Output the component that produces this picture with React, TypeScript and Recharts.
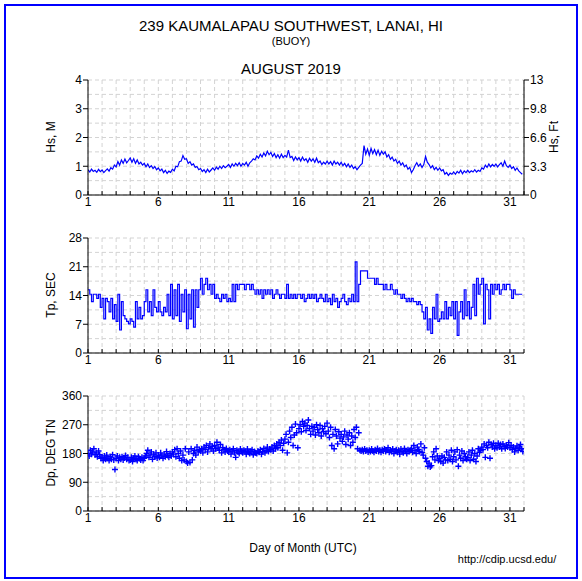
import { LineChart, Line, ScatterChart, Scatter, XAxis, YAxis, CartesianGrid } from "recharts";

const W = 582;
const H = 581;
const FONT = '"Liberation Sans", Arial, Helvetica, sans-serif';
const BLUE = "#0000ff";
const GRID = "#d3d3d3";

// x axis: day of month
const DAY_TICKS = [1, 2, 3, 4, 5, 6, 7, 8, 9, 10, 11, 12, 13, 14, 15, 16, 17, 18, 19, 20, 21, 22, 23, 24, 25, 26, 27, 28, 29, 30, 31, 32];
const DAY_LABELS = [1, 6, 11, 16, 21, 26, 31];

const HS_TICKS = [0, 0.5, 1, 1.5, 2, 2.5, 3, 3.5, 4];
const HS_LABELS = [0, 1, 2, 3, 4];
const FT_LABELS = ["0", "3.3", "6.6", "9.8", "13"];
const TP_TICKS = [0, 3.5, 7, 10.5, 14, 17.5, 21, 24.5, 28];
const TP_LABELS = [0, 7, 14, 21, 28];
const DP_TICKS = [0, 45, 90, 135, 180, 225, 270, 315, 360];
const DP_LABELS = [0, 90, 180, 270, 360];

// significant wave height (m), 3-hourly, one row per day
const HS_PER_DAY = 8;
const HS_M = [
  0.88, 0.80, 0.90, 0.82, 0.86, 0.79, 0.89, 0.81,
  0.87, 0.78, 0.85, 0.91, 0.83, 0.95, 0.90, 1.04,
  0.98, 1.16, 1.04, 1.22, 1.10, 1.25, 1.12, 1.20,
  1.29, 1.14, 1.26, 1.10, 1.22, 1.08, 1.14, 1.04,
  1.10, 0.98, 1.08, 0.96, 1.02, 0.92, 0.99, 0.88,
  0.94, 0.84, 0.90, 0.78, 0.86, 0.75, 0.83, 0.79,
  0.90, 0.84, 1.00, 0.98, 1.16, 1.18, 1.37, 1.24,
  1.26, 1.10, 1.16, 1.04, 1.08, 0.96, 0.99, 0.88,
  0.92, 0.82, 0.88, 0.78, 0.90, 0.80, 0.87, 0.94,
  0.86, 0.97, 0.90, 1.00, 0.92, 1.02, 0.95, 1.00,
  1.06, 0.96, 1.08, 1.00, 1.10, 1.02, 1.12, 1.00,
  1.10, 1.04, 1.14, 1.00, 1.12, 1.18, 1.26, 1.22,
  1.36, 1.28, 1.42, 1.32, 1.46, 1.36, 1.52, 1.40,
  1.48, 1.34, 1.44, 1.30, 1.40, 1.28, 1.42, 1.30,
  1.38, 1.32, 1.56, 1.30, 1.34, 1.20, 1.32, 1.22,
  1.30, 1.18, 1.32, 1.20, 1.26, 1.14, 1.28, 1.18,
  1.26, 1.14, 1.28, 1.12, 1.18, 1.06, 1.14, 1.08,
  1.18, 1.08, 1.16, 1.04, 1.18, 1.08, 1.14, 1.04,
  1.14, 1.02, 1.10, 0.98, 1.08, 0.96, 1.04, 0.92,
  0.98, 0.88, 0.96, 1.04, 1.10, 1.72, 1.42, 1.60,
  1.38, 1.62, 1.44, 1.58, 1.40, 1.56, 1.38, 1.52,
  1.42, 1.50, 1.32, 1.40, 1.24, 1.32, 1.18, 1.24,
  1.10, 1.18, 1.04, 1.12, 0.98, 1.04, 0.90, 0.96,
  0.78, 0.88, 1.02, 1.12, 1.00, 1.08, 0.96, 1.06,
  1.34, 1.14, 1.06, 0.94, 1.02, 0.88, 0.96, 0.86,
  0.94, 0.84, 0.88, 0.72, 0.78, 0.68, 0.76, 0.72,
  0.80, 0.72, 0.82, 0.76, 0.86, 0.74, 0.84, 0.78,
  0.86, 0.78, 0.84, 0.80, 0.88, 0.80, 0.86, 0.82,
  0.94, 0.90, 1.04, 0.96, 1.08, 0.98, 1.06, 1.00,
  1.08, 0.98, 1.06, 1.12, 1.00, 1.18, 1.02, 0.96,
  1.04, 0.92, 0.98, 0.86, 0.94, 0.84, 0.78, 0.72,
];

// peak period (s), 3-hourly
const TP_PER_DAY = 8;
const TP_SEC = [
  15.4, 14.3, 12.5, 14.3, 14.3, 13.3, 14.3, 11.1,
  13.3, 8.3, 13.3, 12.5, 10.0, 13.3, 8.3, 11.8,
  7.7, 14.3, 5.6, 12.5, 9.1, 8.3, 7.7, 7.1,
  8.3, 7.7, 6.3, 12.5, 8.3, 11.1, 8.3, 9.1,
  12.5, 15.4, 10.0, 12.5, 9.1, 15.4, 11.1, 10.0,
  12.5, 10.0, 9.1, 11.1, 10.0, 14.3, 9.1, 16.7,
  8.3, 15.4, 9.1, 16.7, 7.7, 14.3, 10.0, 15.4,
  5.9, 14.3, 8.3, 15.4, 6.3, 15.4, 11.1, 15.4,
  18.2, 14.3, 16.7, 18.2, 15.4, 16.7, 14.3, 16.7,
  13.3, 14.3, 13.3, 12.5, 14.3, 13.3, 14.3, 12.5,
  13.3, 12.5, 16.7, 12.5, 16.7, 15.4, 16.7, 16.7,
  16.7, 15.4, 16.7, 16.7, 15.4, 16.7, 15.4, 14.3,
  15.4, 14.3, 15.4, 13.3, 15.4, 14.3, 15.4, 14.3,
  15.4, 13.3, 14.3, 15.4, 14.3, 13.3, 14.3, 14.3,
  13.3, 16.7, 13.3, 14.3, 13.3, 14.3, 13.3, 14.3,
  14.3, 13.3, 14.3, 12.5, 13.3, 14.3, 13.3, 14.3,
  13.3, 14.3, 12.5, 13.3, 14.3, 13.3, 12.5, 14.3,
  12.5, 13.3, 11.8, 14.3, 12.5, 13.3, 11.1, 12.5,
  13.3, 14.3, 12.5, 11.8, 13.3, 12.5, 14.3, 12.5,
  22.2, 12.5, 16.7, 20.0, 20.0, 20.0, 20.0, 18.2,
  18.2, 18.2, 18.2, 16.7, 18.2, 16.7, 16.7, 16.7,
  15.4, 16.7, 15.4, 15.4, 16.7, 15.4, 14.3, 15.4,
  14.3, 14.3, 13.3, 14.3, 13.3, 12.5, 13.3, 12.5,
  13.3, 12.5, 12.5, 11.8, 12.5, 11.8, 10.0, 8.3,
  11.1, 5.6, 8.3, 4.8, 11.1, 8.3, 14.3, 7.7,
  8.3, 10.0, 8.3, 12.5, 8.3, 11.1, 9.1, 12.5,
  8.3, 12.5, 4.3, 10.0, 12.5, 8.3, 15.4, 9.1,
  12.5, 8.3, 11.1, 16.7, 9.1, 18.2, 14.3, 16.7,
  18.2, 7.1, 16.7, 15.4, 8.3, 16.7, 14.3, 16.7,
  15.4, 16.7, 14.3, 15.4, 16.7, 15.4, 16.7, 16.7,
  15.4, 13.3, 15.4, 14.3, 14.3, 14.3, 14.3, 14.3,
];

// peak direction (deg true north), 2-hourly
const DP_PER_DAY = 12;
const DP_DEG = [
  180, 172, 190, 178, 185, 195, 176, 182, 170, 188, 176, 165,
  168, 158, 172, 162, 175, 165, 158, 170, 162, 176, 160, 130,
  165, 172, 158, 168, 162, 170, 160, 166, 174, 162, 168, 158,
  160, 168, 155, 165, 172, 162, 158, 170, 164, 160, 168, 158,
  165, 172, 180, 190, 168, 175, 185, 162, 178, 170, 182, 166,
  175, 168, 182, 172, 165, 178, 170, 186, 174, 168, 180, 172,
  185, 178, 192, 170, 195, 180, 165, 188, 158, 175, 160, 195,
  155, 150, 185, 152, 195, 160, 180, 190, 175, 200, 185, 192,
  188, 195, 182, 200, 192, 205, 185, 198, 210, 195, 202, 188,
  205, 195, 215, 200, 190, 208, 182, 198, 192, 185, 196, 188,
  185, 192, 178, 188, 195, 182, 168, 190, 185, 180, 194, 186,
  182, 190, 186, 178, 194, 184, 180, 188, 192, 176, 186, 182,
  180, 188, 184, 192, 178, 186, 196, 182, 190, 200, 186, 194,
  192, 200, 188, 205, 195, 210, 198, 215, 205, 222, 190, 212,
  225, 240, 182, 215, 250, 230, 262, 205, 238, 272, 245, 198,
  258, 270, 248, 280, 265, 275, 252, 268, 285, 258, 240, 265,
  250, 262, 238, 270, 255, 245, 268, 235, 258, 248, 265, 242,
  275, 250, 230, 262, 205, 240, 195, 255, 235, 210, 248, 228,
  240, 218, 232, 250, 208, 238, 225, 245, 205, 235, 215, 255,
  230, 262, 195, 245, 190, 188, 192, 186, 194, 188, 190, 185,
  190, 186, 194, 188, 184, 192, 188, 196, 186, 190, 184, 192,
  188, 194, 186, 190, 198, 184, 190, 186, 194, 180, 188, 192,
  184, 190, 178, 194, 186, 182, 196, 188, 180, 192, 186, 190,
  196, 184, 205, 190, 180, 200, 192, 186, 210, 184, 175, 198,
  165, 155, 140, 150, 138, 142, 170, 185, 160, 195, 172, 158,
  165, 155, 172, 150, 168, 160, 185, 158, 175, 162, 190, 155,
  170, 185, 160, 192, 140, 175, 165, 188, 158, 180, 170, 162,
  168, 185, 158, 175, 190, 162, 180, 155, 172, 195, 184, 190,
  200, 192, 210, 168, 205, 198, 215, 165, 208, 200, 212, 195,
  205, 198, 212, 200, 208, 195, 210, 202, 196, 206, 200, 214,
  198, 205, 192, 200, 185, 196, 204, 190, 200, 208, 195, 186,
];

const hsData = HS_M.map((v, i) => ({ day: 1 + i / HS_PER_DAY, hs: v }));
const tpData = TP_SEC.map((v, i) => ({ day: 1 + i / TP_PER_DAY, tp: v }));
const dpData = DP_DEG.map((v, i) => ({ day: 1 + i / DP_PER_DAY, dp: v }));

// plot boxes
const PLOT_LEFT = 88;
const PLOT_RIGHT = 524;
const XAXIS_H = 20;
const PANELS = [
  { top: 80, bottom: 195 },
  { top: 238, bottom: 353 },
  { top: 396, bottom: 511 },
];

const TICK_FONT = 12;

function DayTick(props: any) {
  const { x, y, payload } = props;
  const axisY = y - 8;
  return (
    <g>
      <line x1={x} x2={x} y1={axisY} y2={axisY - 4} stroke="#000" />
      {DAY_LABELS.includes(payload.value) && (
        <text x={x} y={axisY + 11} textAnchor="middle" fontSize={TICK_FONT} fontFamily={FONT} fill="#000">
          {payload.value}
        </text>
      )}
    </g>
  );
}

// y axes use tickSize 5 + tickMargin 1, so the axis line sits 6px from the label x
function LeftTick(props: any) {
  const { x, y, payload, labels } = props;
  if (!labels.includes(payload.value)) return <g />;
  return (
    <g>
      <line x1={x + 1} x2={x + 6} y1={y} y2={y} stroke="#000" />
      <text x={x} y={y} dy="0.36em" textAnchor="end" fontSize={TICK_FONT} fontFamily={FONT} fill="#000">
        {payload.value}
      </text>
    </g>
  );
}

function FeetTick(props: any) {
  const { x, y, payload } = props;
  const idx = HS_LABELS.indexOf(payload.value);
  return (
    <g>
      <line x1={x - 6} x2={x - 1} y1={y} y2={y} stroke="#000" />
      <text x={x} y={y} dy="0.36em" textAnchor="start" fontSize={TICK_FONT} fontFamily={FONT} fill="#000">
        {FT_LABELS[idx]}
      </text>
    </g>
  );
}

function PlusMark(props: any) {
  const { cx, cy } = props;
  return <path d={`M${cx - 3},${cy}h6M${cx},${cy - 3}v6`} stroke={BLUE} strokeWidth={1.4} fill="none" />;
}

function margins(i: number, rightAxis: number) {
  return {
    top: PANELS[i].top,
    bottom: H - PANELS[i].bottom - XAXIS_H,
    left: 0,
    right: W - PLOT_RIGHT - rightAxis,
  };
}

const layer: React.CSSProperties = { position: "absolute", left: 0, top: 0 };

function dayAxis() {
  return (
    <XAxis
      type="number"
      dataKey="day"
      domain={[1, 32]}
      ticks={DAY_TICKS}
      interval={0}
      height={XAXIS_H}
      tickSize={4}
      tickMargin={4}
      tickLine={false}
      axisLine={{ stroke: "#000" }}
      tick={DayTick}
      allowDataOverflow
    />
  );
}

function leftAxisProps(domain: number[], ticks: number[], labels: number[]) {
  return {
    domain,
    ticks,
    interval: 0 as const,
    width: PLOT_LEFT,
    tickSize: 5,
    tickMargin: 1,
    tickLine: false,
    axisLine: { stroke: "#000" },
    tick: (p: any) => <LeftTick {...p} labels={labels} />,
  };
}

export default function App() {
  return (
    <div style={{ position: "absolute", left: 0, top: 0, width: W, height: H, background: "#fff", fontFamily: FONT }}>
      <div style={{ position: "absolute", left: 4, top: 4, width: 570, height: 571, border: `2px solid ${BLUE}` }} />

      <div style={layer}>
        <LineChart width={W} height={H} data={hsData} margin={margins(0, 40)}>
          <CartesianGrid stroke={GRID} strokeDasharray="4 3" />
          {dayAxis()}
          <YAxis {...leftAxisProps([0, 4], HS_TICKS, HS_LABELS)} />
          <YAxis
            yAxisId="ft"
            orientation="right"
            domain={[0, 4]}
            ticks={HS_LABELS}
            interval={0}
            width={40}
            tickSize={5}
            tickMargin={1}
            tickLine={false}
            axisLine={{ stroke: "#000" }}
            tick={FeetTick}
          />
          {/* same series on the feet axis, drawn invisibly so that axis gets its ticks */}
          <Line yAxisId="ft" type="linear" dataKey="hs" stroke="none" dot={false} isAnimationActive={false} />
          <Line type="linear" dataKey="hs" stroke={BLUE} strokeWidth={1.2} dot={false} isAnimationActive={false} />
        </LineChart>
      </div>

      <div style={layer}>
        <LineChart width={W} height={H} data={tpData} margin={margins(1, 0)}>
          <CartesianGrid stroke={GRID} strokeDasharray="4 3" />
          {dayAxis()}
          <YAxis {...leftAxisProps([0, 28], TP_TICKS, TP_LABELS)} />
          <Line type="stepAfter" dataKey="tp" stroke={BLUE} strokeWidth={1.2} dot={false} isAnimationActive={false} />
        </LineChart>
      </div>

      <div style={layer}>
        <ScatterChart width={W} height={H} margin={margins(2, 0)}>
          <CartesianGrid stroke={GRID} strokeDasharray="4 3" />
          {dayAxis()}
          <YAxis type="number" dataKey="dp" {...leftAxisProps([0, 360], DP_TICKS, DP_LABELS)} />
          <Scatter data={dpData} shape={PlusMark} isAnimationActive={false} />
        </ScatterChart>
      </div>

      <svg width={W} height={H} style={{ ...layer, pointerEvents: "none" }} fontFamily={FONT} fill="#000">
        <text x={291} y={31} textAnchor="middle" fontSize={15}>239 KAUMALAPAU SOUTHWEST, LANAI, HI</text>
        <text x={291} y={45} textAnchor="middle" fontSize={11}>(BUOY)</text>
        <text x={291} y={74} textAnchor="middle" fontSize={15}>AUGUST 2019</text>
        <text transform="translate(55,137) rotate(-90)" textAnchor="middle" fontSize={12}>Hs, M</text>
        <text transform="translate(558,137) rotate(-90)" textAnchor="middle" fontSize={12}>Hs, Ft</text>
        <text transform="translate(55,295) rotate(-90)" textAnchor="middle" fontSize={12}>Tp, SEC</text>
        <text transform="translate(55,453) rotate(-90)" textAnchor="middle" fontSize={12}>Dp, DEG TN</text>
        <text x={303} y={552} textAnchor="middle" fontSize={12}>Day of Month (UTC)</text>
        <text x={507} y={563} textAnchor="middle" fontSize={11}>http://cdip.ucsd.edu/</text>
      </svg>
    </div>
  );
}
